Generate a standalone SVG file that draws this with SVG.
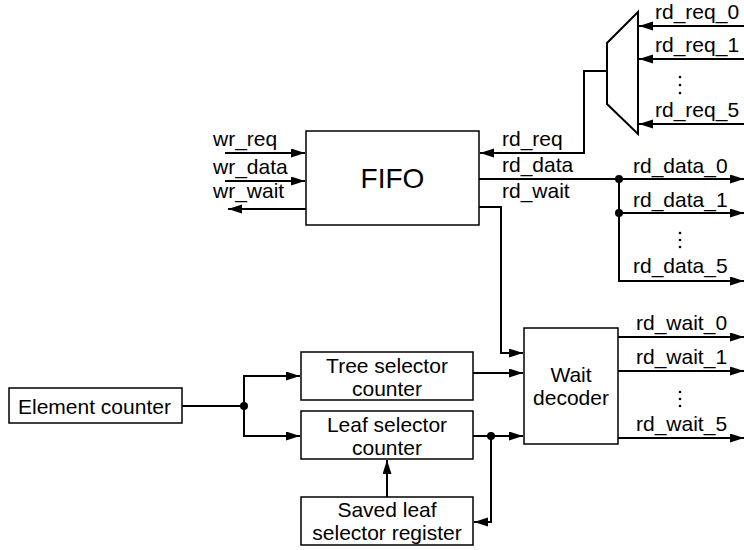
<svg xmlns="http://www.w3.org/2000/svg" width="744" height="550" viewBox="0 0 744 550">
<style>
text{font-family:"Liberation Sans",Arial,sans-serif;font-size:21px;fill:#000}
.c{text-anchor:middle}
.box{fill:#fff;stroke:#000;stroke-width:1.5}
.w{fill:none;stroke:#000;stroke-width:2}
.a{marker-end:url(#ah)}
.dot{fill:#000}
</style>
<defs>
<marker id="ah" markerUnits="userSpaceOnUse" markerWidth="15" markerHeight="10" refX="14" refY="4.5" orient="auto">
<path d="M0,0 L14,4.5 L0,9 z" fill="#000"/>
</marker>
</defs>
<rect width="744" height="550" fill="#fff"/>

<g id="connectors">
<path class="w a" d="M225,153 H305"/>
<path class="w a" d="M225,181 H305"/>
<path class="w a" d="M306,209 H228"/>
<path class="w a" d="M607,71 H584 V153 H480"/>
<path class="w a" d="M744,26 H639"/>
<path class="w a" d="M744,59 H639"/>
<path class="w a" d="M744,124 H639"/>
<path class="w a" d="M479,179 H744"/>
<path class="w a" d="M619,179 V281 H744"/>
<path class="w a" d="M619,213 H744"/>
<path class="w a" d="M479,207 H501 V353 H523"/>
<path class="w a" d="M618,337 H744"/>
<path class="w a" d="M618,371 H744"/>
<path class="w a" d="M618,438 H744"/>
<path class="w" d="M182,406 H244"/>
<path class="w a" d="M244,406 V376 H300"/>
<path class="w a" d="M244,406 V436 H300"/>
<path class="w a" d="M473,373 H523"/>
<path class="w a" d="M473,436 H523"/>
<path class="w a" d="M491,436 V522 H474"/>
<path class="w a" d="M387,497 V460"/>
<circle class="dot" cx="619" cy="179" r="4"/>
<circle class="dot" cx="619" cy="213" r="4"/>
<circle class="dot" cx="244" cy="406" r="4"/>
<circle class="dot" cx="491" cy="436" r="4"/>
</g>

<g id="labels">
<text x="213" y="146">wr_req</text>
<text x="213" y="174">wr_data</text>
<text x="213" y="198">wr_wait</text>
<text x="502" y="146">rd_req</text>
<text x="502" y="172">rd_data</text>
<text x="502" y="198">rd_wait</text>
<text x="655" y="19">rd_req_0</text>
<text x="655" y="52">rd_req_1</text>
<text x="655" y="117">rd_req_5</text>
<text x="633" y="173">rd_data_0</text>
<text x="633" y="207">rd_data_1</text>
<text x="633" y="273">rd_data_5</text>
<text x="636" y="330">rd_wait_0</text>
<text x="636" y="364">rd_wait_1</text>
<text x="636" y="431">rd_wait_5</text>
<circle class="dot" cx="680" cy="77" r="1.3"/>
<circle class="dot" cx="680" cy="85" r="1.3"/>
<circle class="dot" cx="680" cy="93" r="1.3"/>
<circle class="dot" cx="680" cy="233" r="1.3"/>
<circle class="dot" cx="680" cy="240" r="1.3"/>
<circle class="dot" cx="680" cy="247" r="1.3"/>
<circle class="dot" cx="680" cy="392" r="1.3"/>
<circle class="dot" cx="680" cy="399" r="1.3"/>
<circle class="dot" cx="680" cy="406" r="1.3"/>
</g>

<g id="fifo">
<rect class="box" x="306" y="131" width="173" height="94"/>
<text class="c" x="392.5" y="188" style="font-size:28px">FIFO</text>
</g>

<g id="mux">
<polygon class="box" points="638,12 607,43 607,104 638,134" style="stroke-width:2"/>
</g>

<g id="wait-decoder">
<rect class="box" x="524" y="328" width="94" height="116"/>
<text class="c" x="571" y="382">Wait</text>
<text class="c" x="571" y="405">decoder</text>
</g>

<g id="element-counter">
<rect class="box" x="9" y="388" width="173" height="35"/>
<text x="18" y="414">Element counter</text>
</g>

<g id="tree-selector">
<rect class="box" x="301" y="352" width="172" height="48"/>
<text class="c" x="387" y="373">Tree selector</text>
<text class="c" x="387" y="396">counter</text>
</g>

<g id="leaf-selector">
<rect class="box" x="301" y="411" width="172" height="48"/>
<text class="c" x="387" y="432">Leaf selector</text>
<text class="c" x="387" y="455">counter</text>
</g>

<g id="saved-leaf">
<rect class="box" x="301" y="497" width="172" height="48"/>
<text class="c" x="387" y="517">Saved leaf</text>
<text class="c" x="387" y="540">selector register</text>
</g>
</svg>
